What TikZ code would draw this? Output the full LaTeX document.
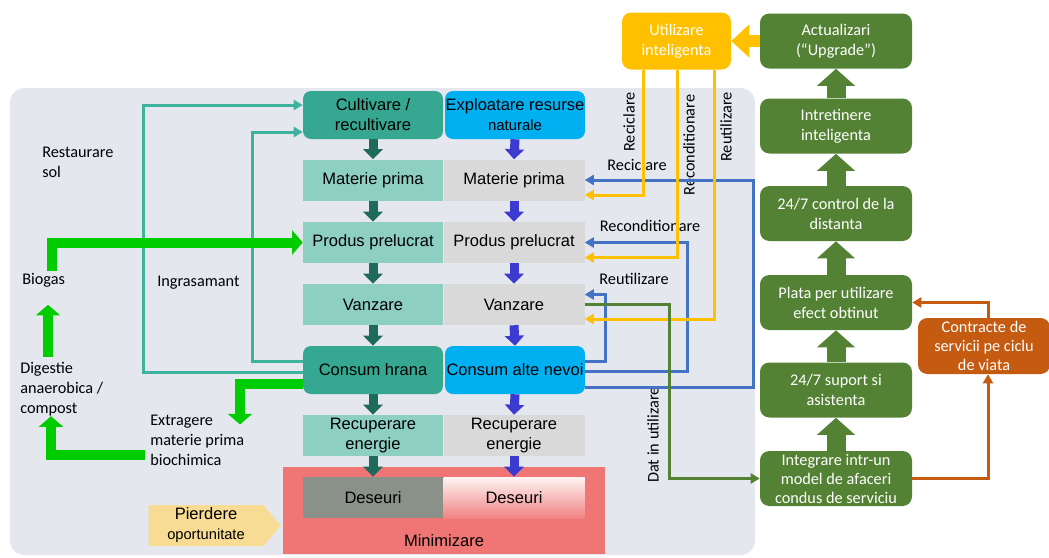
\documentclass[tikz,border=0pt]{standalone}
\usepackage{fontspec}
\setmainfont{Liberation Sans}
\newfontfamily\carlito{Carlito}
\usetikzlibrary{arrows.meta,calc,shapes.symbols}

\definecolor{bggray}{HTML}{E4E7EE}
\definecolor{tealmid}{HTML}{36A891}
\definecolor{lteal}{HTML}{8DD0C2}
\definecolor{lgray}{HTML}{D9D9D9}
\definecolor{skyblue}{HTML}{00B0F0}
\definecolor{darkteal}{HTML}{1E6B5C}
\definecolor{colblue}{HTML}{3B3BD1}
\definecolor{minred}{HTML}{F07575}
\definecolor{desgray}{HTML}{8A9188}
\definecolor{pyellow}{HTML}{F8DC93}
\definecolor{lime}{HTML}{00CC00}
\definecolor{tealln}{HTML}{3DB39E}
\definecolor{lnblue}{HTML}{4472C4}
\definecolor{amber}{HTML}{FFC000}
\definecolor{svgreen}{HTML}{548235}
\definecolor{rust}{HTML}{C55A11}

\begin{document}
\begin{tikzpicture}
  [x=0.75pt,y=-0.75pt,
   every node/.style={inner sep=0pt,align=center},
   arial/.style={font=\fontsize{12.4}{15}\selectfont},
   calib/.style={font=\carlito\fontsize{12.2}{15}\selectfont},
   lbox/.style={arial,minimum width=105pt,minimum height=30.75pt,fill=lteal},
   rbox/.style={arial,minimum width=105.75pt,minimum height=30.75pt,fill=lgray},
   topbox/.style={arial,minimum width=105pt,minimum height=36pt,rounded corners=6pt},
   gbox/.style={calib,text=white,fill=svgreen,rounded corners=7pt,minimum width=114pt,minimum height=41.25pt},
   lbl/.style={calib,align=left},
   larr/.style={-{Triangle[width=14.25pt,length=7.5pt]},line width=6.75pt,darkteal},
   rarr/.style={-{Triangle[width=14.25pt,length=7.5pt]},line width=6.75pt,colblue},
   uparr/.style={-{Triangle[width=27.75pt,length=12.75pt]},line width=14.25pt,svgreen},
   fat/.style={-{Triangle[width=18pt,length=8pt]},line width=7.5pt,lime},
   ln/.style={-{Triangle[width=7.5pt,length=6.75pt]},line width=2.25pt}]
  \useasboundingbox (0,0) rectangle (1049,557);

  % background panel and waste area
  \fill[bggray,rounded corners=11pt] (10,88) rectangle (755,555);
  \node[fill=minred,minimum width=241.5pt,minimum height=65.25pt] (minim) at (444,510.5) {};
  \node[arial] (minlbl) at (444,541) {Minimizare};

  % two value chains
  \node[topbox,fill=tealmid] (cult) at (373,115) {Cultivare /\\recultivare};
  \node[topbox,fill=skyblue] (expl) at (515,115) {Exploatare resurse\\{\fontsize{11.2}{14}\selectfont naturale}};
  \node[lbox] (mp1) at (373,180) {Materie prima};
  \node[rbox] (mp2) at (514,180) {Materie prima};
  \node[lbox] (pp1) at (373,242.5) {Produs prelucrat};
  \node[rbox] (pp2) at (514,242.5) {Produs prelucrat};
  \node[lbox] (van1) at (373,304.5) {Vanzare};
  \node[rbox] (van2) at (514,304.5) {Vanzare};
  \node[topbox,fill=tealmid] (ch) at (373,370) {Consum hrana};
  \node[topbox,fill=skyblue] (cna) at (515,370) {Consum alte nevoi};
  \node[lbox,font=\fontsize{12.4}{14.5}\selectfont] (rec1) at (373,435.5) {Recuperare\\energie};
  \node[rbox,font=\fontsize{12.4}{14.5}\selectfont] (rec2) at (514,435.5) {Recuperare\\energie};
  \node[lbox,fill=desgray] (des1) at (373,497.5) {Deseuri};
  \node[rbox,top color=white!92!minred,bottom color=minred!90!white] (des2) at (514,497.5) {Deseuri};

  \foreach \from/\to in {cult/mp1,mp1/pp1,pp1/van1,van1/ch,ch/rec1,rec1/des1}
    \draw[larr] (\from.south) -- (\to.north);
  \foreach \from/\to in {expl/mp2,mp2/pp2,pp2/van2,van2/cna,cna/rec2,rec2/des2}
    \draw[rarr] (\from.south) -- (\to.north);

  \node[signal,signal to=east,signal pointer angle=100,fill=pyellow,minimum width=99pt,minimum height=30.75pt,arial] (pierd) at (206,525.5) {Pierdere\\{\fontsize{11}{13}\selectfont oportunitate}};

  % biological loop
  \node[lbl,anchor=west] (rest) at (42,162) {Restaurare\\sol};
  \node[lbl,anchor=west] (biogas) at (22,280) {Biogas};
  \node[lbl,anchor=west] (ingr) at (157,283) {Ingrasamant};
  \node[lbl,anchor=west] (digest) at (20,389) {Digestie\\anaerobica /\\compost};
  \node[lbl,anchor=west] (extr) at (150,440) {Extragere\\materie prima\\biochimica};

  \coordinate (tl1) at (143,105);
  \coordinate (tl2) at (252,132);
  \draw[ln,tealln] ($(ch.west)+(0,2)$) -| (tl1) -- ($(cult.west)+(0,-10)$);
  \draw[ln,tealln] ($(ch.west)+(0,-9)$) -| (tl2) -- ($(cult.west)+(0,17)$);

  \draw[fat] ($(biogas.north)+(8,-2)$) |- (pp1.west);
  \draw[fat] ($(digest.north west)+(28,-5)$) -- ($(digest.north west)+(28,-57)$);
  \draw[fat] ($(ch.west)+(0,14)$) -| ($(extr.north west)+(90,10)$);
  \draw[fat] ($(extr.west)+(-5,15)$) -| ($(digest.south west)+(31,0)$);

  % technical loop
  \node[calib,fill=amber,text=white,rounded corners=7pt,minimum width=81.75pt,minimum height=42.75pt] (util) at (676.5,41) {Utilizare\\inteligenta};

  \node[calib] (lrec) at (637,165) {Reciclare};
  \node[calib] (lrecond) at (650,226) {Reconditionare};
  \node[calib] (lreut) at (634,279) {Reutilizare};
  \node[calib,rotate=90] (vrec) at (629,122) {Reciclare};
  \node[calib,rotate=90] (vrecond) at (689,145) {Reconditionare};
  \node[calib,rotate=90] (vreut) at (726,127) {Reutilizare};
  \node[calib,rotate=90] (vdat) at (653,435) {Dat in utilizare};

  \draw[ln,lnblue] ($(cna.east)+(0,17)$) -| ($(mp2.east)+(168.5,0)$) -- (mp2.east);
  \draw[ln,lnblue] ($(cna.east)+(0,1)$) -| ($(pp2.east)+(102.5,0)$) -- (pp2.east);
  \draw[ln,lnblue] ($(cna.east)+(0,-9)$) -| ($(van2.east)+(20.5,-10)$) -- ($(van2.east)+(0,-10)$);

  \draw[ln,amber] ($(util.south)+(-33.5,0)$) |- ($(mp2.east)+(0,15)$);
  \draw[ln,amber] ($(util.south)+(0.5,0)$) |- ($(pp2.east)+(0,15)$);
  \draw[ln,amber] ($(util.south)+(37.5,0)$) |- ($(van2.east)+(0,14.5)$);

  % service model
  \node[gbox] (act) at (836,41) {Actualizari\\(“Upgrade”)};
  \node[gbox] (intr) at (836,126) {Intretinere\\inteligenta};
  \node[gbox] (ctrl) at (836,213.5) {24/7 control de la\\distanta};
  \node[gbox] (plata) at (836,302.5) {Plata per utilizare\\efect obtinut};
  \node[gbox] (sup) at (836,390) {24/7 suport si\\asistenta};
  \node[gbox,font=\carlito\fontsize{12.2}{14.25}\selectfont] (integ) at (836,478.5) {Integrare intr-un\\model de afaceri\\condus de serviciu};
  \node[calib,font=\carlito\fontsize{12.2}{14.25}\selectfont,fill=rust,text=white,rounded corners=7pt,minimum width=99pt,minimum height=42pt] (contr) at (984,346) {Contracte de\\servicii pe ciclu\\de viata};

  \foreach \from/\to in {integ/sup,sup/plata,plata/ctrl,ctrl/intr,intr/act}
    \draw[uparr] (\from.north) -- (\to.south);
  \draw[-{Triangle[width=24pt,length=13.5pt]},line width=9pt,amber] (act.west) -- (util.east);

  \draw[ln,svgreen] (van2.east) -| ($(integ.west)+(-90,0)$) -- (integ.west);
  \draw[ln,rust] (integ.east) -| ($(contr.south)+(4,0)$);
  \draw[ln,rust] ($(contr.north)+(4,0)$) |- (plata.east);

\end{tikzpicture}
\end{document}
